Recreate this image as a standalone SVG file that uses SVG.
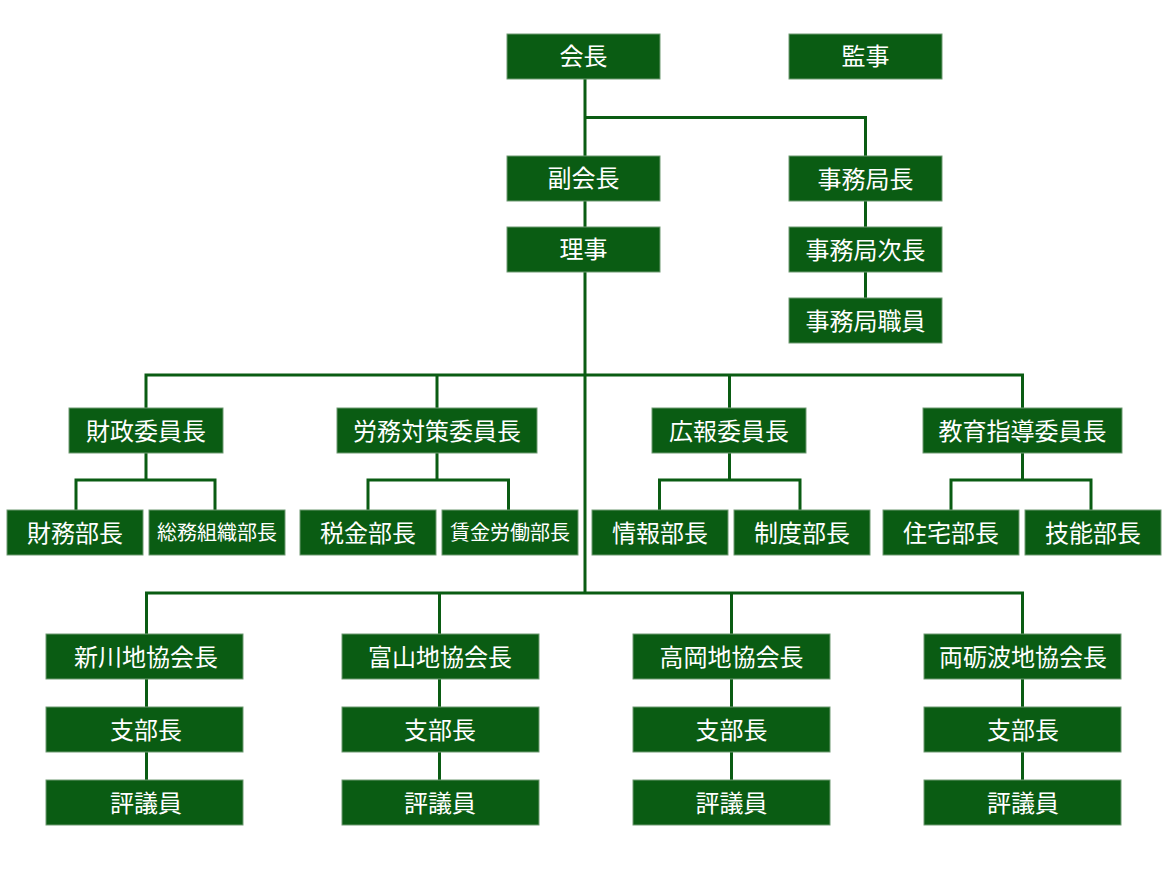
<svg xmlns="http://www.w3.org/2000/svg" width="1170" height="870" viewBox="0 0 1170 870">
<style>
.n{fill:#0a5c13;stroke:#6f9a73;stroke-width:1}
.t{fill:#fff;font-family:"Noto Sans CJK JP","Noto Sans",sans-serif;font-size:24px;font-weight:400;text-anchor:middle;dominant-baseline:central}
.s{font-size:20px}
.c{fill:none;stroke:#0a5c13;stroke-width:3}
</style>
<rect width="1170" height="870" fill="#fff"/>
<g id="connectors" class="c">
<path d="M585 79V156M585 117.5H865.5V156M585 201V227M865.5 201V227M865.5 272V298"/>
<path d="M585 272V593M146 408V375H1022.5V408M437 375V408M729.5 375V408"/>
<path d="M146 453V480M76 510V480H215V510M437 453V480M368 510V480H508.5V510M729.5 453V480M659.5 510V480H800V510M1022.5 453V480M951 510V480H1091V510"/>
<path d="M146.5 634V593H1022.5V634M439.5 593V634M731.5 593V634"/>
<path d="M146.5 679V707M146.5 752V780M439.5 679V707M439.5 752V780M731.5 679V707M731.5 752V780M1022.5 679V707M1022.5 752V780"/>
</g>
<g id="kaicho"><rect class="n" x="507" y="34" width="153" height="45"/><text class="t" x="583.5" y="54.5">会長</text></g>
<g id="kanji"><rect class="n" x="789" y="34" width="153" height="45"/><text class="t" x="865.5" y="54.5">監事</text></g>
<g id="fukukaicho"><rect class="n" x="507" y="156" width="153" height="45"/><text class="t" x="583.5" y="176.5">副会長</text></g>
<g id="riji"><rect class="n" x="507" y="227" width="153" height="45"/><text class="t" x="583.5" y="247.5">理事</text></g>
<g id="jimukyokucho"><rect class="n" x="789" y="156" width="153" height="45"/><text class="t" x="865.5" y="177.5">事務局長</text></g>
<g id="jimukyokujicho"><rect class="n" x="789" y="227" width="153" height="45"/><text class="t" x="865.5" y="248.5">事務局次長</text></g>
<g id="jimukyokushokuin"><rect class="n" x="789" y="298" width="153" height="45"/><text class="t" x="865.5" y="319.5">事務局職員</text></g>

<g id="zaisei"><rect class="n" x="69" y="408" width="154" height="45"/><text class="t" x="146" y="429.5">財政委員長</text></g>
<g id="romu"><rect class="n" x="337" y="408" width="200" height="45"/><text class="t" x="437" y="429.5">労務対策委員長</text></g>
<g id="koho"><rect class="n" x="652" y="408" width="154" height="45"/><text class="t" x="729" y="429.5">広報委員長</text></g>
<g id="kyoiku"><rect class="n" x="923" y="408" width="199" height="45"/><text class="t" x="1022.5" y="429.5">教育指導委員長</text></g>

<g id="zaimu"><rect class="n" x="7" y="510" width="136" height="45"/><text class="t" x="75" y="531.5">財務部長</text></g>
<g id="somu"><rect class="n" x="149" y="510" width="136" height="45"/><text class="t s" x="217" y="531.5">総務組織部長</text></g>
<g id="zeikin"><rect class="n" x="300" y="510" width="136" height="45"/><text class="t" x="368" y="531.5">税金部長</text></g>
<g id="chingin"><rect class="n" x="442" y="510" width="136" height="45"/><text class="t s" x="510" y="531.5">賃金労働部長</text></g>
<g id="joho"><rect class="n" x="592" y="510" width="136" height="45"/><text class="t" x="660" y="531.5">情報部長</text></g>
<g id="seido"><rect class="n" x="734" y="510" width="136" height="45"/><text class="t" x="802" y="531.5">制度部長</text></g>
<g id="jutaku"><rect class="n" x="883" y="510" width="136" height="45"/><text class="t" x="951" y="531.5">住宅部長</text></g>
<g id="gino"><rect class="n" x="1025" y="510" width="136" height="45"/><text class="t" x="1093" y="531.5">技能部長</text></g>

<g id="niikawa"><rect class="n" x="46" y="634" width="197" height="45"/><text class="t" x="146" y="655.5">新川地協会長</text></g>
<g id="niikawa-shibu"><rect class="n" x="46" y="707" width="197" height="45"/><text class="t" x="146" y="728.5">支部長</text></g>
<g id="niikawa-hyogi"><rect class="n" x="46" y="780" width="197" height="45"/><text class="t" x="146" y="801.5">評議員</text></g>

<g id="toyama"><rect class="n" x="342" y="634" width="197" height="45"/><text class="t" x="440" y="655.5">富山地協会長</text></g>
<g id="toyama-shibu"><rect class="n" x="342" y="707" width="197" height="45"/><text class="t" x="440" y="728.5">支部長</text></g>
<g id="toyama-hyogi"><rect class="n" x="342" y="780" width="197" height="45"/><text class="t" x="440" y="801.5">評議員</text></g>

<g id="takaoka"><rect class="n" x="633" y="634" width="197" height="45"/><text class="t" x="731.5" y="655.5">高岡地協会長</text></g>
<g id="takaoka-shibu"><rect class="n" x="633" y="707" width="197" height="45"/><text class="t" x="731.5" y="728.5">支部長</text></g>
<g id="takaoka-hyogi"><rect class="n" x="633" y="780" width="197" height="45"/><text class="t" x="731.5" y="801.5">評議員</text></g>

<g id="tonami"><rect class="n" x="924" y="634" width="197" height="45"/><text class="t" x="1023" y="655.5">両砺波地協会長</text></g>
<g id="tonami-shibu"><rect class="n" x="924" y="707" width="197" height="45"/><text class="t" x="1023" y="728.5">支部長</text></g>
<g id="tonami-hyogi"><rect class="n" x="924" y="780" width="197" height="45"/><text class="t" x="1023" y="801.5">評議員</text></g>
</svg>
